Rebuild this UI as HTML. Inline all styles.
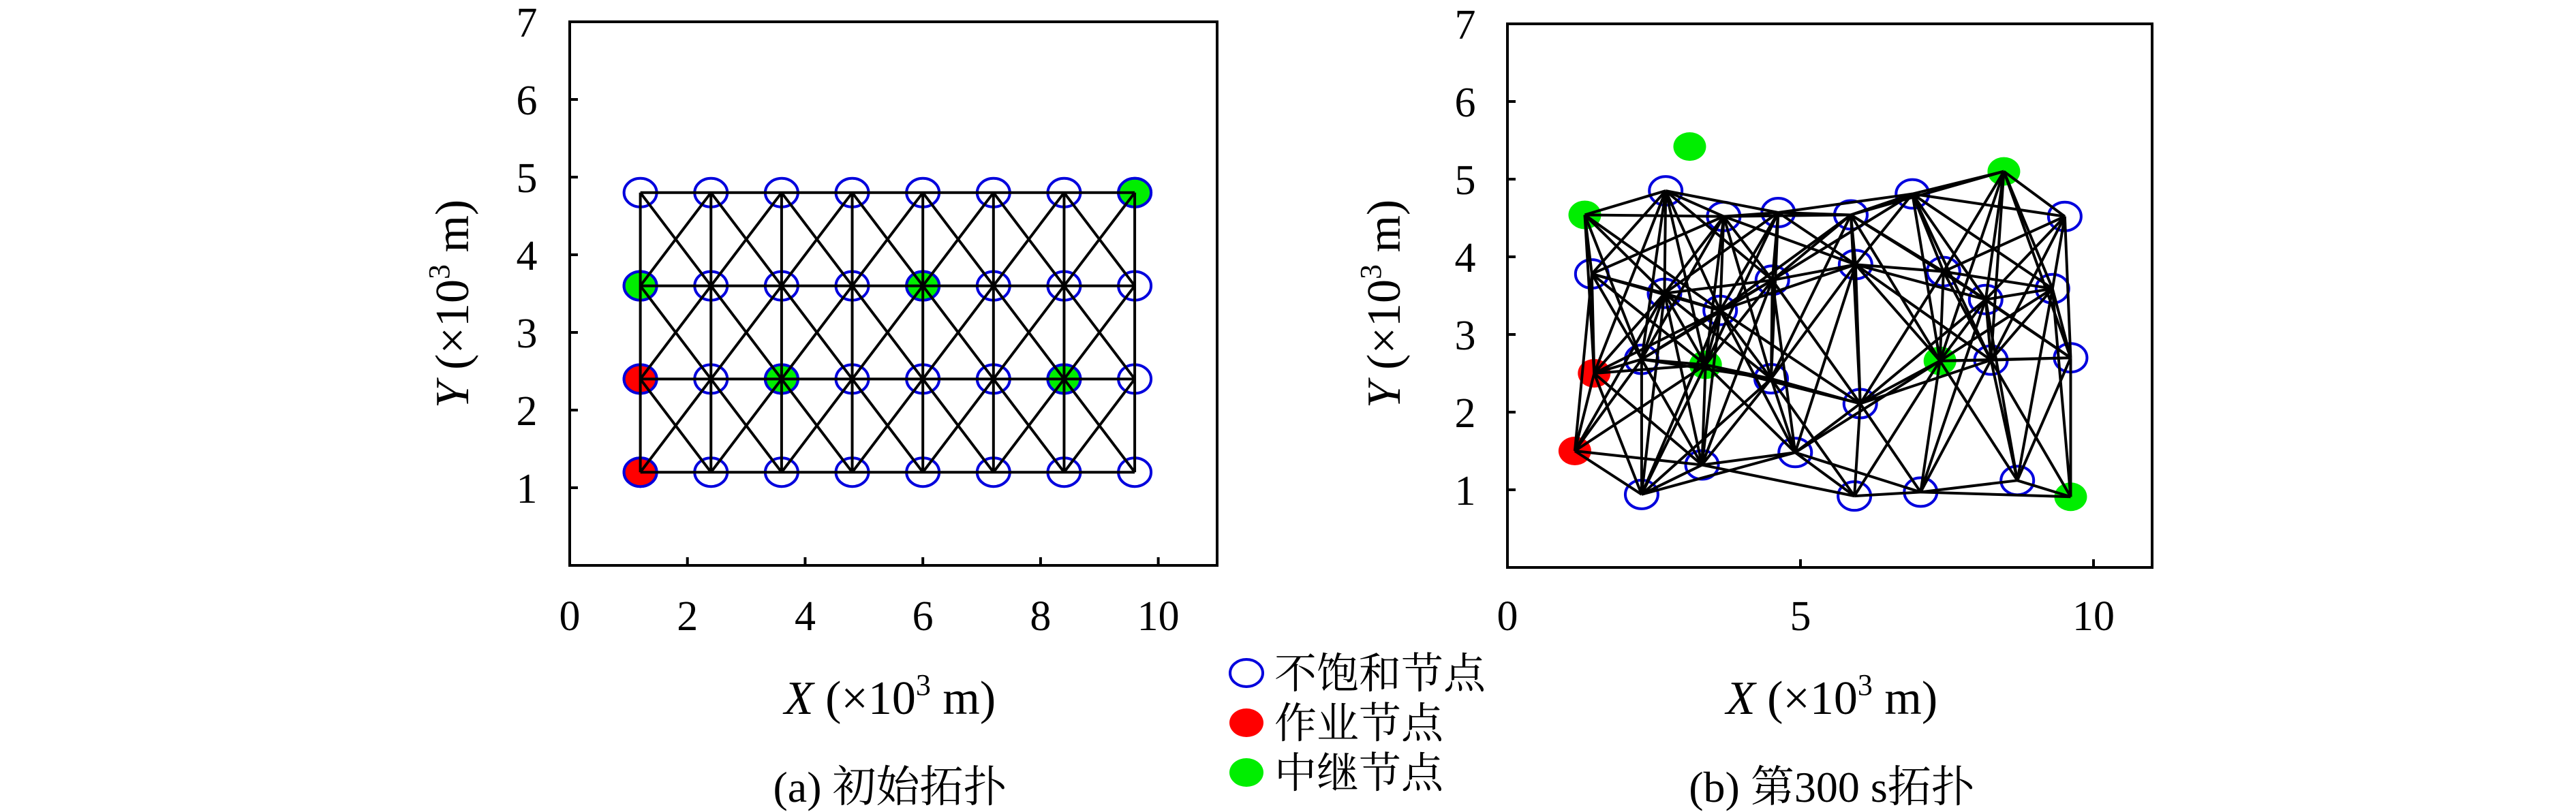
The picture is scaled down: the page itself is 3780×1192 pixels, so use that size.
<!DOCTYPE html>
<html><head><meta charset="utf-8">
<style>
html,body{margin:0;padding:0;background:#fff;}
svg{display:block;}
text{font-family:"Liberation Serif","Noto Serif CJK SC",serif;fill:#000;}
</style></head>
<body>
<svg id="fig" width="3780" height="1192" viewBox="0 0 3780 1192" xmlns="http://www.w3.org/2000/svg">
<g id="panelA"></g>
<g id="panelB"></g>
<g id="legend">
  <g>
    <ellipse cx="1829" cy="988" rx="24" ry="20" fill="none" stroke="#0000dd" stroke-width="4"/>
    <text x="1870" y="1010" font-size="62">不饱和节点</text>
  </g>
  <g>
    <ellipse cx="1829" cy="1061" rx="25" ry="21" fill="#ff0000"/>
    <text x="1870" y="1083" font-size="62">作业节点</text>
  </g>
  <g>
    <ellipse cx="1829" cy="1134" rx="25" ry="21" fill="#00ee00"/>
    <text x="1870" y="1156" font-size="62">中继节点</text>
  </g>
</g>
</svg>
<script>
// ---- Panel A data: initial grid topology ----
const gridXs = [1.2, 2.4, 3.6, 4.8, 6.0, 7.2, 8.4, 9.6];
const gridYs = [1.2, 2.4, 3.6, 4.8];
const aWorkX = [1.2, 1.2];
const aWorkY = [1.2, 2.4];
const aRelayX = [1.2, 3.6, 6.0, 8.4, 9.6];
const aRelayY = [3.6, 2.4, 3.6, 2.4, 4.8];
const aXTicks = [0, 2, 4, 6, 8, 10];
const yTicks = [1, 2, 3, 4, 5, 6, 7];

// ---- Panel B data: topology at 300 s ----
const bWorkX = [1.15, 1.48];
const bWorkY = [1.50, 2.50];
const bRelayX = [1.32, 3.11, 3.38, 8.47, 7.38, 9.61];
const bRelayY = [4.54, 5.42, 2.61, 5.10, 2.66, 0.91];
const bRelayLinked = [1, 0, 1, 1, 1, 1];
const bFreeX = [2.70, 3.69, 4.62, 5.86, 6.91, 9.51, 1.44, 2.68, 4.52, 5.94, 7.44, 8.16, 9.30, 3.63, 2.29, 4.50, 8.25, 9.61, 6.02, 4.91, 3.32, 2.29, 5.92, 7.05, 8.70];
const bFreeY = [4.85, 4.52, 4.57, 4.54, 4.81, 4.52, 3.78, 3.53, 3.70, 3.90, 3.81, 3.45, 3.59, 3.31, 2.68, 2.43, 2.67, 2.70, 2.11, 1.48, 1.32, 0.94, 0.92, 0.97, 1.12];
const bLinkRange = [2.75];
const bXTicks = [0, 5, 10];

const NS = "http://www.w3.org/2000/svg";
function mk(tag, attrs, parent){
  const e = document.createElementNS(NS, tag);
  for (const k in attrs) e.setAttribute(k, attrs[k]);
  parent.appendChild(e);
  return e;
}
function makeAxes(left, top, w, h, xmax, ymax){
  return {
    x: v => left + v / xmax * w,
    y: v => top + h - v / ymax * h
  };
}

function drawFrame(g, left, top, w, h, sx, sy, xticks, yticks, ylabX, ytickX, xlabCx, caption){
  const frame = mk('rect', {x:left, y:top, width:w, height:h, fill:'none', stroke:'#000', 'stroke-width':4}, g);
  
  
  xticks.forEach(t => {
    if (t > 0) {
      const tk = mk('line', {x1:sx(t), x2:sx(t), y1:top+h, y2:top+h-12, stroke:'#000', 'stroke-width':4}, g);
      
      
    }
    const tl = mk('text', {x:sx(t), y:925, 'font-size':62, 'text-anchor':'middle'}, g);
    tl.textContent = String(t);
    
    
  });
  yticks.forEach(t => {
    if (t < 7) {
      const tk = mk('line', {x1:left, x2:left+12, y1:sy(t), y2:sy(t), stroke:'#000', 'stroke-width':4}, g);
      
      
    }
    const tl = mk('text', {x:ytickX, y:sy(t)+22, 'font-size':62, 'text-anchor':'middle'}, g);
    tl.textContent = String(t);
    
    
  });
  const yl = mk('text', {x:0, y:0, 'font-size':70, 'text-anchor':'middle', transform:'translate(' + (ylabX+24) + ',446) rotate(-90)'}, g);
  yl.innerHTML = '<tspan font-style="italic">Y</tspan> (×10<tspan font-size="44" dy="-28">3</tspan><tspan dy="28"> m)</tspan>';
  
  
  const xl = mk('text', {x:xlabCx, y:1048, 'font-size':70, 'text-anchor':'middle'}, g);
  xl.innerHTML = '<tspan font-style="italic">X</tspan> (×10<tspan font-size="44" dy="-28">3</tspan><tspan dy="28"> m)</tspan>';
  
  
  const cap = mk('text', {x:xlabCx, y:1177, 'font-size':64, 'text-anchor':'middle'}, g);
  cap.textContent = caption;
  
  
}

function edge(g, sx, sy, x1, y1, x2, y2){
  const l = mk('line', {x1:sx(x1), y1:sy(y1), x2:sx(x2), y2:sy(y2), stroke:'#000', 'stroke-width':4}, g);
  
  
}
function node(g, cx, cy, fill, stroke, name){
  const e = mk('ellipse', {cx:cx, cy:cy, rx:24, ry:21, fill:fill, stroke:stroke, 'stroke-width':stroke==='none'?0:4}, g);
  
  
}

// ===== Panel A =====
(function(){
  const g = document.getElementById('panelA');
  const L=836, T=32, W=950, H=798;
  const ax = makeAxes(L, T, W, H, 11, 7);
  const sx = ax.x, sy = ax.y;
  drawFrame(g, L, T, W, H, sx, sy, aXTicks, yTicks, 663, 773, 1306, '(a) 初始拓扑');
  gridXs.forEach(x => gridYs.forEach(y => node(g, sx(x), sy(y), 'none', '#0000dd', 'unsaturated-node')));
  aWorkX.forEach((x,i) => node(g, sx(x), sy(aWorkY[i]), '#ff0000', '#0000dd', 'working-node'));
  aRelayX.forEach((x,i) => node(g, sx(x), sy(aRelayY[i]), '#00ee00', '#0000dd', 'relay-node'));
  const nx = gridXs.length, ny = gridYs.length;
  for (let j=0;j<ny;j++) edge(g, sx, sy, gridXs[0], gridYs[j], gridXs[nx-1], gridYs[j]);
  for (let i=0;i<nx;i++) edge(g, sx, sy, gridXs[i], gridYs[0], gridXs[i], gridYs[ny-1]);
  for (let i=0;i<nx-1;i++) for (let j=0;j<ny-1;j++){
    edge(g, sx, sy, gridXs[i], gridYs[j], gridXs[i+1], gridYs[j+1]);
    edge(g, sx, sy, gridXs[i], gridYs[j+1], gridXs[i+1], gridYs[j]);
  }
})();

// ===== Panel B =====
(function(){
  const g = document.getElementById('panelB');
  const L=2212, T=35, W=946, H=798;
  const ax = makeAxes(L, T, W, H, 11, 7);
  const sx = ax.x, sy = ax.y;
  drawFrame(g, L, T, W, H, sx, sy, bXTicks, yTicks, 2030, 2150, 2688, '(b) 第300 s拓扑');
  bFreeX.forEach((x,i) => node(g, sx(x), sy(bFreeY[i]), 'none', '#0000dd', 'unsaturated-node'));
  bWorkX.forEach((x,i) => node(g, sx(x), sy(bWorkY[i]), '#ff0000', 'none', 'working-node'));
  bRelayX.forEach((x,i) => node(g, sx(x), sy(bRelayY[i]), '#00ee00', 'none', 'relay-node'));
  const pts = [];
  bWorkX.forEach((x,i) => pts.push([x, bWorkY[i]]));
  bRelayX.forEach((x,i) => { if (bRelayLinked[i]) pts.push([x, bRelayY[i]]); });
  bFreeX.forEach((x,i) => pts.push([x, bFreeY[i]]));
  const R = bLinkRange[0];
  for (let i=0;i<pts.length;i++) for (let j=i+1;j<pts.length;j++){
    const d = Math.hypot(pts[i][0]-pts[j][0], pts[i][1]-pts[j][1]);
    if (d <= R) edge(g, sx, sy, pts[i][0], pts[i][1], pts[j][0], pts[j][1]);
  }
})();
</script>
</body></html>
